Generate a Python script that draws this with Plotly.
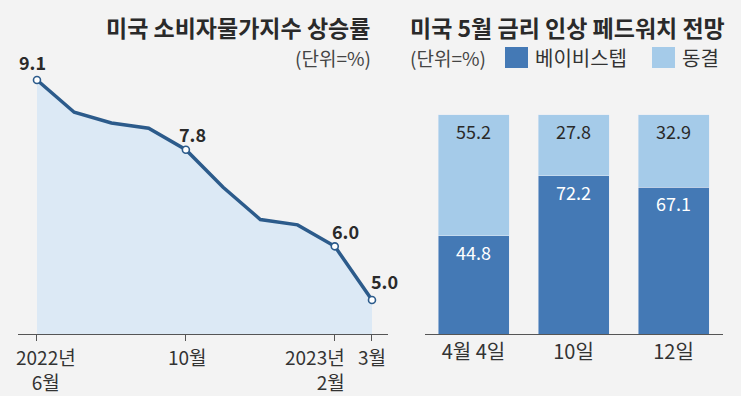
import plotly.graph_objects as go

# ---- data ----
months = ["2022-06", "2022-07", "2022-08", "2022-09", "2022-10",
          "2022-11", "2022-12", "2023-01", "2023-02", "2023-03"]
cpi = [9.1, 8.5, 8.3, 8.2, 7.8, 7.1, 6.5, 6.4, 6.0, 5.0]
labeled_idx = [0, 4, 8, 9]
month_ticks = [0, 4, 8, 9]
month_tick_text = ["2022년<br>6월", "10월", "2023년<br>2월", "3월"]

dates = ["4월 4일", "10일", "12일"]
baby_step = [44.8, 72.2, 67.1]
freeze = [55.2, 27.8, 32.9]

W, H = 741, 396
BG = "#f3f3f3"
LINE = "#2c5b8b"
FILL = "#dce9f5"
DARK = "#4479b5"
LIGHT = "#a5cbe9"
TXT = "#2a2a2a"
FONT = "Liberation Sans Narrow, Noto Sans CJK KR, sans-serif"
KFONT = "Noto Sans CJK KR, sans-serif"

xs = list(range(len(cpi)))

fig = go.Figure()
fig.add_trace(go.Scatter(
    x=xs, y=cpi, mode="lines", fill="tozeroy", fillcolor=FILL,
    line=dict(color=LINE, width=3.5), hoverinfo="skip", showlegend=False,
    xaxis="x", yaxis="y"))
fig.add_trace(go.Scatter(
    x=[xs[i] for i in labeled_idx], y=[cpi[i] for i in labeled_idx],
    mode="markers",
    marker=dict(size=7, color="white", line=dict(color=LINE, width=1.6)),
    showlegend=False, xaxis="x", yaxis="y"))

fig.add_trace(go.Bar(
    x=dates, y=baby_step, marker_color=DARK, width=0.71,
    text=[f"{v:.1f}" for v in baby_step], textposition="inside",
    insidetextanchor="end", textangle=0,
    textfont=dict(color="white", size=18, family=FONT),
    showlegend=False, xaxis="x2", yaxis="y2"))
fig.add_trace(go.Bar(
    x=dates, y=freeze, marker_color=LIGHT, width=0.71,
    text=[f"{v:.1f}" for v in freeze], textposition="inside",
    insidetextanchor="end", textangle=0,
    textfont=dict(color=TXT, size=18, family=FONT),
    showlegend=False, xaxis="x2", yaxis="y2"))

ydom = [62 / H, 1 - 60 / H]

annotations = []
offsets = {0: (-4, 18), 4: (7, 16), 8: (11, 15), 9: (13, 19)}
for i in labeled_idx:
    dx, dy = offsets[i]
    annotations.append(dict(
        x=xs[i], y=cpi[i], xref="x", yref="y", text=f"<b>{cpi[i]:.1f}</b>",
        showarrow=False, xshift=dx, yshift=dy,
        font=dict(size=18, color=TXT, family=FONT)))

# month tick labels (positioned like the reference, slightly off-centre)
tick_shift = {0: 9, 4: 2, 8: -20, 9: 0}
tick_align = {0: "center", 4: "center", 8: "right", 9: "center"}
for tv, tt in zip(month_ticks, month_tick_text):
    annotations.append(dict(
        x=tv, y=1 - 341 / H, xref="x", yref="paper", text=tt,
        showarrow=False, xshift=tick_shift[tv], xanchor="center",
        yanchor="top", align=tick_align[tv],
        font=dict(size=19, color="#333", family=FONT)))

annotations += [
    dict(x=372 / W, y=1 - 27 / H, xref="paper", yref="paper", xanchor="right",
         yanchor="middle", showarrow=False,
         text="<b>미국 소비자물가지수 상승률</b>",
         font=dict(size=23, color=TXT, family=KFONT)),
    dict(x=373 / W, y=1 - 58 / H, xref="paper", yref="paper", xanchor="right",
         yanchor="middle", showarrow=False, text="(단위=%)",
         font=dict(size=19, color="#444", family=KFONT)),
    dict(x=408 / W, y=1 - 27 / H, xref="paper", yref="paper", xanchor="left",
         yanchor="middle", showarrow=False,
         text="<b>미국 5월 금리 인상 페드워치 전망</b>",
         font=dict(size=23, color=TXT, family=KFONT)),
    dict(x=408 / W, y=1 - 58 / H, xref="paper", yref="paper", xanchor="left",
         yanchor="middle", showarrow=False, text="(단위=%)",
         font=dict(size=19, color="#444", family=KFONT)),
    dict(x=533 / W, y=1 - 58 / H, xref="paper", yref="paper", xanchor="left",
         yanchor="middle", showarrow=False, text="베이비스텝",
         font=dict(size=20, color="#333", family=KFONT)),
    dict(x=680 / W, y=1 - 58 / H, xref="paper", yref="paper", xanchor="left",
         yanchor="middle", showarrow=False, text="동결",
         font=dict(size=20, color="#333", family=KFONT)),
]

shapes = [
    dict(type="rect", xref="paper", yref="paper",
         x0=505 / W, x1=528 / W, y0=1 - 68 / H, y1=1 - 47 / H,
         fillcolor=DARK, line=dict(width=0)),
    dict(type="rect", xref="paper", yref="paper",
         x0=652 / W, x1=675 / W, y0=1 - 68 / H, y1=1 - 47 / H,
         fillcolor=LIGHT, line=dict(width=0)),
]

fig.update_layout(
    width=W, height=H, margin=dict(l=0, r=0, t=0, b=0),
    paper_bgcolor=BG, plot_bgcolor="rgba(0,0,0,0)",
    barmode="stack", bargap=0.29,
    font=dict(family=FONT, color=TXT),
    annotations=annotations, shapes=shapes,
    xaxis=dict(domain=[18 / W, 388 / W], range=[-0.51, 9.43],
               tickmode="array", tickvals=month_ticks,
               ticktext=[""] * len(month_ticks),
               tickangle=0, automargin=False,
               ticks="outside", ticklen=6, tickcolor="#555",
               showline=True, linecolor="#555", linewidth=1.2,
               showgrid=False, zeroline=False),
    yaxis=dict(domain=ydom, range=[4.366, 9.473], visible=False,
               showgrid=False, zeroline=False),
    xaxis2=dict(domain=[425 / W, 723 / W], range=[-0.485, 2.495],
                anchor="y2", showline=True, linecolor="#555", linewidth=1.2,
                tickangle=0, automargin=False,
                ticks="", showgrid=False, zeroline=False,
                tickfont=dict(size=20, color="#333", family=FONT)),
    yaxis2=dict(domain=ydom, range=[0, 125.1], anchor="x2", visible=False,
                showgrid=False, zeroline=False),
)

fig.write_html(
    "out.html",
    config={"displayModeBar": False},
    post_script="document.body.style.margin='0';"
                "document.body.style.background='#f3f3f3';")
